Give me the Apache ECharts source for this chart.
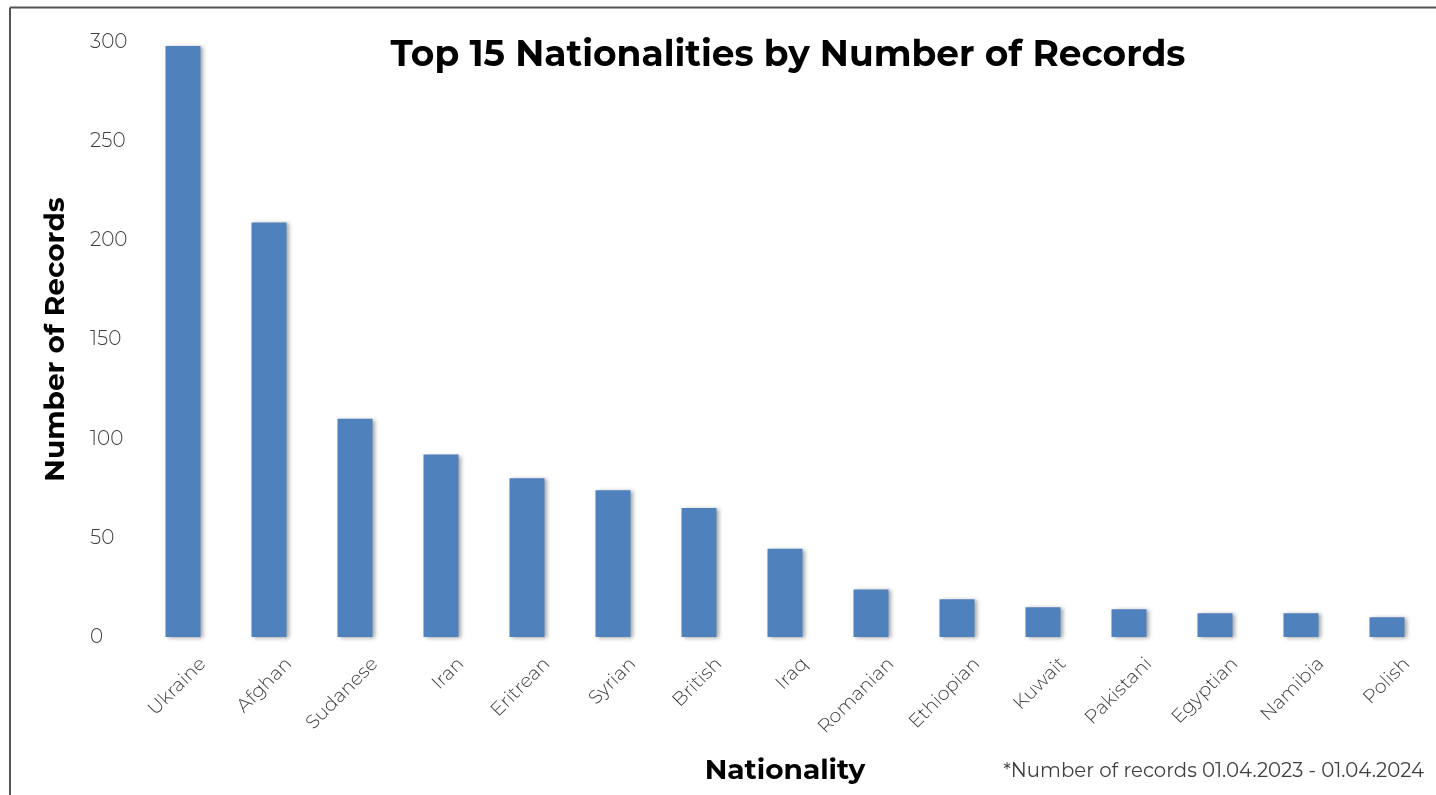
<!DOCTYPE html>
<html>
<head>
<meta charset="utf-8">
<script src="https://cdn.jsdelivr.net/npm/echarts@6/dist/echarts.min.js"></script>
<style>
html,body{margin:0;padding:0;background:#fff;}
#chart{width:1436px;height:795px;}
</style>
</head>
<body>
<div id="chart"></div>
<script>
var categories = ['Ukraine','Afghan','Sudanese','Iran','Eritrean','Syrian','British','Iraq','Romanian','Ethiopian','Kuwait','Pakistani','Egyptian','Namibia','Polish'];
var records = [298, 209, 110, 92, 80, 74, 65, 44.5, 24, 19, 15, 14, 12, 12, 10];
var yTicks = [0, 50, 100, 150, 200, 250, 300];
var titleText = 'Top 15 Nationalities by Number of Records';
var footnote = '*Number of records 01.04.2023 - 01.04.2024';

var FONT = 'Montserrat, "Open Sans", Lato, sans-serif';
var chart = echarts.init(document.getElementById('chart'));
chart.setOption({
  animation: false,
  backgroundColor: '#ffffff',
  title: [{
    text: titleText,
    left: 783, top: 32, textAlign: 'center',
    textStyle: {fontFamily: FONT, fontWeight: 'bold', fontSize: 36, color: '#000'}
  }, {
    text: footnote,
    right: 7, bottom: 9,
    textStyle: {fontFamily: FONT, fontWeight: 'normal', fontSize: 19.7, color: '#404040'}
  }],
  graphic: [
    {type: 'line', shape: {x1: 10, y1: 7.5, x2: 1436, y2: 7.5}, style: {stroke: '#555', lineWidth: 2}},
    {type: 'line', shape: {x1: 10, y1: 7.5, x2: 10, y2: 795}, style: {stroke: '#555', lineWidth: 2}}
  ],
  grid: {left: 140, right: 6, top: 42, bottom: 158, containLabel: false},
  xAxis: {
    type: 'category',
    data: categories,
    name: 'Nationality',
    nameLocation: 'middle',
    nameGap: 114,
    nameTextStyle: {fontFamily: FONT, fontWeight: 'bold', fontSize: 28, color: '#000'},
    axisLine: {show: false},
    axisTick: {show: false},
    axisLabel: {
      rotate: 45, margin: 4, interval: 0,
      verticalAlign: 'top', lineHeight: 56,
      fontFamily: FONT, fontSize: 19, fontWeight: 300, color: '#404040'
    }
  },
  yAxis: {
    type: 'value',
    min: 0, max: 300, interval: 50,
    name: 'Number of Records',
    nameLocation: 'middle',
    nameGap: 70,
    nameTextStyle: {fontFamily: FONT, fontWeight: 'bold', fontSize: 28, color: '#000'},
    axisLine: {show: false},
    axisTick: {show: false},
    splitLine: {show: false},
    axisLabel: {
      margin: 50, align: 'left', fontFamily: FONT, fontSize: 20, fontWeight: 300, color: '#404040',
      formatter: function (v) { return yTicks.indexOf(v) >= 0 ? String(v) : ''; }
    }
  },
  series: [{
    type: 'bar',
    data: records,
    barWidth: 35,
    itemStyle: {
      color: '#4F81BD',
      shadowColor: 'rgba(0,0,0,0.35)',
      shadowBlur: 4,
      shadowOffsetX: 2,
      shadowOffsetY: 1
    }
  }]
});
</script>
</body>
</html>
